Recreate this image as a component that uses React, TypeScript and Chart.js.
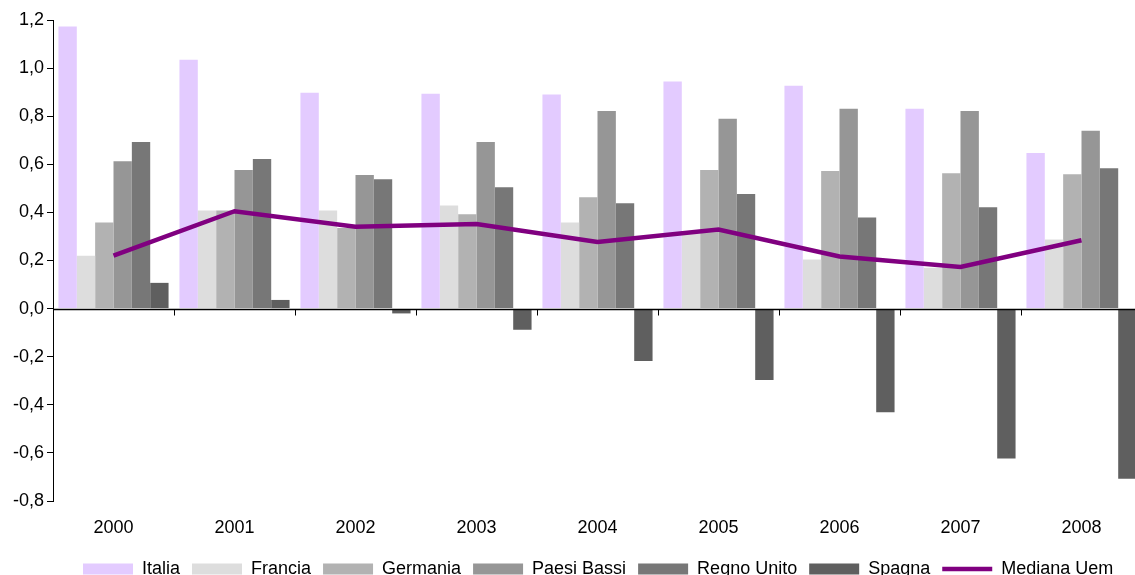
import React, { useEffect, useRef } from 'react';
import { Chart, registerables } from 'chart.js';

Chart.register(...registerables);

const years = ['2000', '2001', '2002', '2003', '2004', '2005', '2006', '2007', '2008'];
const italia = [1.173, 1.035, 0.898, 0.893, 0.89, 0.944, 0.927, 0.831, 0.647];
const francia = [0.22, 0.408, 0.408, 0.429, 0.358, 0.32, 0.204, 0.17, 0.287];
const germania = [0.358, 0.408, 0.335, 0.392, 0.463, 0.576, 0.572, 0.563, 0.559];
const paesiBassi = [0.613, 0.576, 0.555, 0.693, 0.822, 0.789, 0.831, 0.822, 0.739];
const regnoUnito = [0.693, 0.622, 0.538, 0.505, 0.438, 0.476, 0.379, 0.421, 0.584];
const spagna = [0.107, 0.036, -0.02, -0.088, -0.218, -0.297, -0.431, -0.623, -0.707];
const medianaUem = [0.22, 0.405, 0.34, 0.352, 0.277, 0.329, 0.217, 0.173, 0.284];

const W = 1160;
const H = 588;
const FONT = 'Liberation Sans, Arial, sans-serif';

const axisPlugin = {
  id: 'zeroAxis',
  afterLayout(chart: any) {
    const lg = chart.legend;
    if (lg && lg.lineWidths && lg.lineWidths.length) {
      const pad = lg.options.labels.padding;
      const start = (lg.left + pad + lg.right - lg.lineWidths[0]) / 2;
      const shift = 83 - start;
      lg.left += shift;
      lg.right += shift;
    }
  },
  afterDatasetsDraw(chart: any) {
    const { ctx, chartArea, scales } = chart;
    const y0 = Math.round(scales.y.getPixelForValue(0)) + 0.5;
    ctx.save();
    ctx.strokeStyle = '#000';
    ctx.lineWidth = 1.5;
    ctx.beginPath();
    ctx.moveTo(chartArea.left, y0);
    ctx.lineTo(chartArea.right, y0);
    ctx.stroke();
    ctx.lineWidth = 1;
    ctx.beginPath();
    for (let i = 1; i < years.length; i++) {
      const x = Math.round((scales.x.getPixelForValue(i - 1) + scales.x.getPixelForValue(i)) / 2) + 0.5;
      ctx.moveTo(x, y0);
      ctx.lineTo(x, y0 + 6);
    }
    ctx.stroke();
    ctx.restore();
  },
};

export default function App() {
  const ref = useRef<HTMLCanvasElement>(null);
  useEffect(() => {
    if (!ref.current) return;
    const bar = (label: string, data: number[], color: string) => ({
      type: 'bar' as const,
      label,
      data,
      backgroundColor: color,
      borderWidth: 0,
      pointStyle: 'rect',
      order: 1,
    });
    const chart = new Chart(ref.current, {
      type: 'bar',
      data: {
        labels: years,
        datasets: [
          bar('Italia', italia, '#E3CBFF'),
          bar('Francia', francia, '#DDDDDD'),
          bar('Germania', germania, '#B2B2B2'),
          bar('Paesi Bassi', paesiBassi, '#969696'),
          bar('Regno Unito', regnoUnito, '#777777'),
          bar('Spagna', spagna, '#5F5F5F'),
          {
            type: 'line' as const,
            label: 'Mediana Uem',
            data: medianaUem,
            borderColor: '#800080',
            backgroundColor: '#800080',
            borderWidth: 4.5,
            pointRadius: 0,
            pointStyle: 'line',
            tension: 0,
            order: 0,
          } as any,
        ],
      },
      options: {
        responsive: false,
        animation: false,
        devicePixelRatio: 1,
        layout: { padding: { top: 20, right: W - 1142, left: 0, bottom: 0 } },
        datasets: {
          bar: { categoryPercentage: 0.91, barPercentage: 1 },
        },
        plugins: {
          tooltip: { enabled: false },
          legend: {
            position: 'bottom',
            labels: {
              usePointStyle: true,
              pointStyleWidth: 50,
              boxHeight: 11,
              boxWidth: 50,
              padding: 12,
              color: '#000',
              font: { family: FONT, size: 18 },
              sort: (a: any, b: any) => a.datasetIndex - b.datasetIndex,
            },
          },
        },
        scales: {
          x: {
            grid: { display: false, drawTicks: false },
            border: { display: false },
            ticks: { color: '#000', font: { family: FONT, size: 18 }, padding: 16, maxRotation: 0 },
            afterFit: (s: any) => { s.height = 47; },
          },
          y: {
            min: -0.8,
            max: 1.2,
            grid: { drawOnChartArea: false, drawTicks: true, tickLength: 6, color: '#000', lineWidth: 1 },
            border: { display: true, color: '#000', width: 1 },
            ticks: {
              stepSize: 0.2,
              color: '#000',
              padding: 3,
              font: { family: FONT, size: 18 },
              callback: (v: any) => {
                const n = Number(v);
                if (Math.abs(n) < 1e-9) return '0,0';
                return n.toFixed(1).replace('.', ',');
              },
            },
            afterFit: (s: any) => { s.width = 53; },
          },
        },
      },
      plugins: [axisPlugin],
    });
    return () => chart.destroy();
  }, []);

  return (
    <div style={{ position: 'fixed', left: 0, top: 0, width: 1135, height: 575, overflow: 'hidden', background: '#fff' }}>
      <canvas ref={ref} width={W} height={H} style={{ width: W, height: H, display: 'block' }} />
    </div>
  );
}
